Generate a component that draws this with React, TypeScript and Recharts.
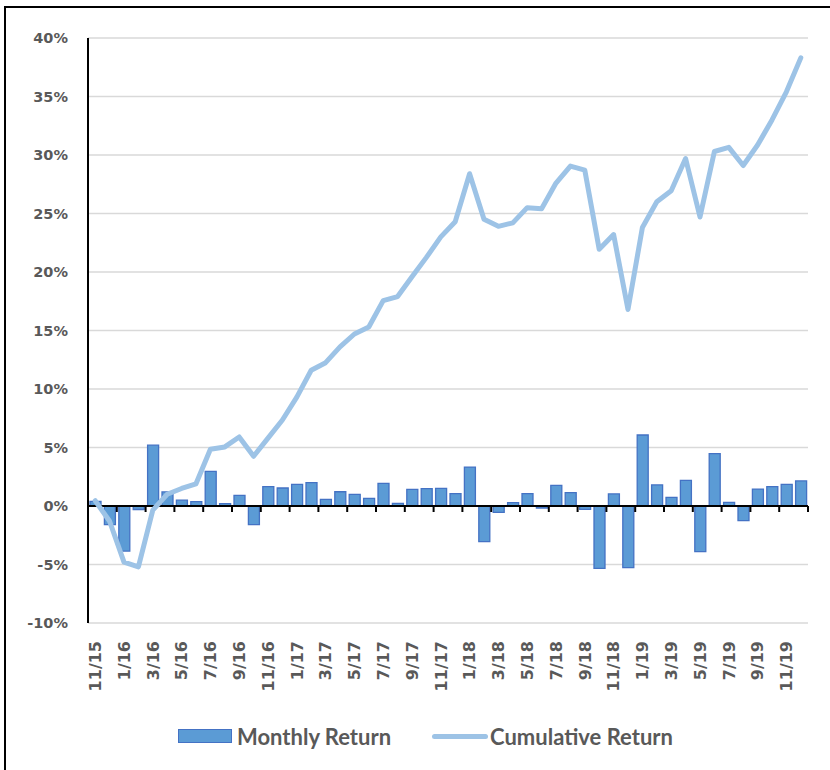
import React from "react";
import {
  ComposedChart,
  Bar,
  Line,
  XAxis,
  YAxis,
  CartesianGrid,
  ReferenceLine,
  Legend,
} from "recharts";

const months = [
  "11/15", "12/15",
  "1/16", "2/16", "3/16", "4/16", "5/16", "6/16", "7/16", "8/16", "9/16", "10/16", "11/16", "12/16",
  "1/17", "2/17", "3/17", "4/17", "5/17", "6/17", "7/17", "8/17", "9/17", "10/17", "11/17", "12/17",
  "1/18", "2/18", "3/18", "4/18", "5/18", "6/18", "7/18", "8/18", "9/18", "10/18", "11/18", "12/18",
  "1/19", "2/19", "3/19", "4/19", "5/19", "6/19", "7/19", "8/19", "9/19", "10/19", "11/19", "12/19",
];

const monthlyReturn = [
  0.4, -1.6,
  -3.85, -0.3, 5.2, 1.2, 0.5, 0.37, 2.96, 0.2, 0.9, -1.6, 1.65, 1.54,
  1.85, 2.0, 0.57, 1.22, 1.0, 0.65, 1.94, 0.23, 1.42, 1.48, 1.5, 1.05,
  3.33, -3.05, -0.54, 0.28, 1.05, -0.17, 1.77, 1.14, -0.28, -5.33, 1.03, -5.27,
  6.07, 1.8, 0.74, 2.19, -3.9, 4.47, 0.31, -1.25, 1.45, 1.65, 1.85, 2.14,
];

const cumulativeReturn = [
  0.45, -1.3,
  -4.8, -5.2, -0.35, 1.0, 1.5, 1.9, 4.85, 5.05, 5.9, 4.25, 5.8, 7.35,
  9.3, 11.6, 12.25, 13.6, 14.7, 15.3, 17.55, 17.9, 19.6, 21.25, 23.0, 24.3,
  28.4, 24.5, 23.9, 24.2, 25.5, 25.4, 27.6, 29.05, 28.7, 21.95, 23.2, 16.8,
  23.8, 26.0, 26.95, 29.7, 24.7, 30.3, 30.65, 29.1, 30.85, 33.0, 35.4, 38.3,
];

const yTicks = [-10, -5, 0, 5, 10, 15, 20, 25, 30, 35, 40];

const seriesNames = { monthly: "Monthly Return", cumulative: "Cumulative Return" };

const data = months.map((m, i) => ({
  month: m,
  monthly: monthlyReturn[i],
  cumulative: cumulativeReturn[i],
}));

const LABEL = "#595959";

// Zero axis line with tick marks every second category boundary
const ZeroAxis = (props: any) => {
  const { x1, y1, x2 } = props;
  if (x1 == null || y1 == null || x2 == null) return null;
  const step = (x2 - x1) / months.length;
  const marks: number[] = [];
  for (let i = 0; i <= months.length; i += 2) marks.push(x1 + i * step);
  return (
    <g>
      <line x1={x1} y1={y1} x2={x2} y2={y1} stroke="#000" strokeWidth={2} />
      {marks.map((mx, i) => (
        <line key={i} x1={mx} y1={y1} x2={mx} y2={y1 + 6} stroke="#000" strokeWidth={2} />
      ))}
    </g>
  );
};

const XTick = (props: any) => {
  const { x, y, payload } = props;
  return (
    <g transform={`translate(${x},${y + 10}) rotate(-90)`}>
      <text
        x={0}
        y={0}
        dy="0.36em"
        textAnchor="end"
        fill={LABEL}
        fontFamily="DejaVu Sans"
        fontWeight="bold"
        fontSize={16}
      >
        {payload.value}
      </text>
    </g>
  );
};

const LegendContent = () => (
  <div
    style={{
      display: "flex",
      alignItems: "center",
      paddingLeft: 178,
      height: 30,
      fontFamily: "Lato",
      fontWeight: 700,
      fontSize: 22,
      color: LABEL,
      whiteSpace: "nowrap",
    }}
  >
    <span
      style={{
        display: "inline-block",
        width: 52,
        height: 12,
        background: "#5B9BD5",
        border: "1px solid #4472C4",
      }}
    />
    <span style={{ marginLeft: 5 }}>{seriesNames.monthly}</span>
    <span
      style={{
        display: "inline-block",
        width: 56,
        height: 5,
        background: "#9DC3E6",
        borderRadius: 3,
        marginLeft: 41,
      }}
    />
    <span style={{ marginLeft: 2 }}>{seriesNames.cumulative}</span>
  </div>
);

export default function App() {
  return (
    <div
      style={{
        position: "absolute",
        left: 0,
        top: 0,
        width: 830,
        height: 770,
        overflow: "hidden",
        background: "#fff",
      }}
    >
      <div
        style={{
          position: "absolute",
          left: 4,
          top: 6,
          width: 900,
          height: 900,
          borderLeft: "2px solid #000",
          borderTop: "2.5px solid #000",
        }}
      />
      <div style={{ position: "absolute", left: 0, top: 0 }}>
        <ComposedChart
          width={830}
          height={770}
          data={data}
          margin={{ top: 38, right: 22, left: 0, bottom: 0 }}
        >
          <CartesianGrid
            vertical={false}
            stroke="#D9D9D9"
            strokeWidth={1.5}
          />
          <XAxis
            dataKey="month"
            interval={1}
            height={147}
            axisLine={false}
            tickLine={false}
            tick={<XTick />}
          />
          <YAxis
            domain={[-10, 40]}
            ticks={yTicks}
            interval={0}
            width={88}
            tickFormatter={(v: number) => `${v}%`}
            axisLine={{ stroke: "#000", strokeWidth: 2 }}
            tickLine={false}
            tickMargin={14}
            tick={{
              fill: LABEL,
              fontSize: 14.5,
              fontWeight: "bold",
              fontFamily: "DejaVu Sans",
            }}
          />
          <Bar
            dataKey="monthly"
            name={seriesNames.monthly}
            fill="#5B9BD5"
            stroke="#4472C4"
            strokeWidth={1.3}
            barSize={11}
            isAnimationActive={false}
          />
          <ReferenceLine y={0} ifOverflow="visible" shape={<ZeroAxis />} />
          <Line
            type="linear"
            dataKey="cumulative"
            name={seriesNames.cumulative}
            stroke="#9DC3E6"
            strokeWidth={5}
            strokeLinejoin="round"
            strokeLinecap="round"
            dot={false}
            activeDot={false}
            isAnimationActive={false}
          />
          <Legend
            verticalAlign="middle"
            align="center"
            layout="horizontal"
            wrapperStyle={{ top: 721, left: 0, width: 830 }}
            content={<LegendContent />}
          />
        </ComposedChart>
      </div>
    </div>
  );
}
